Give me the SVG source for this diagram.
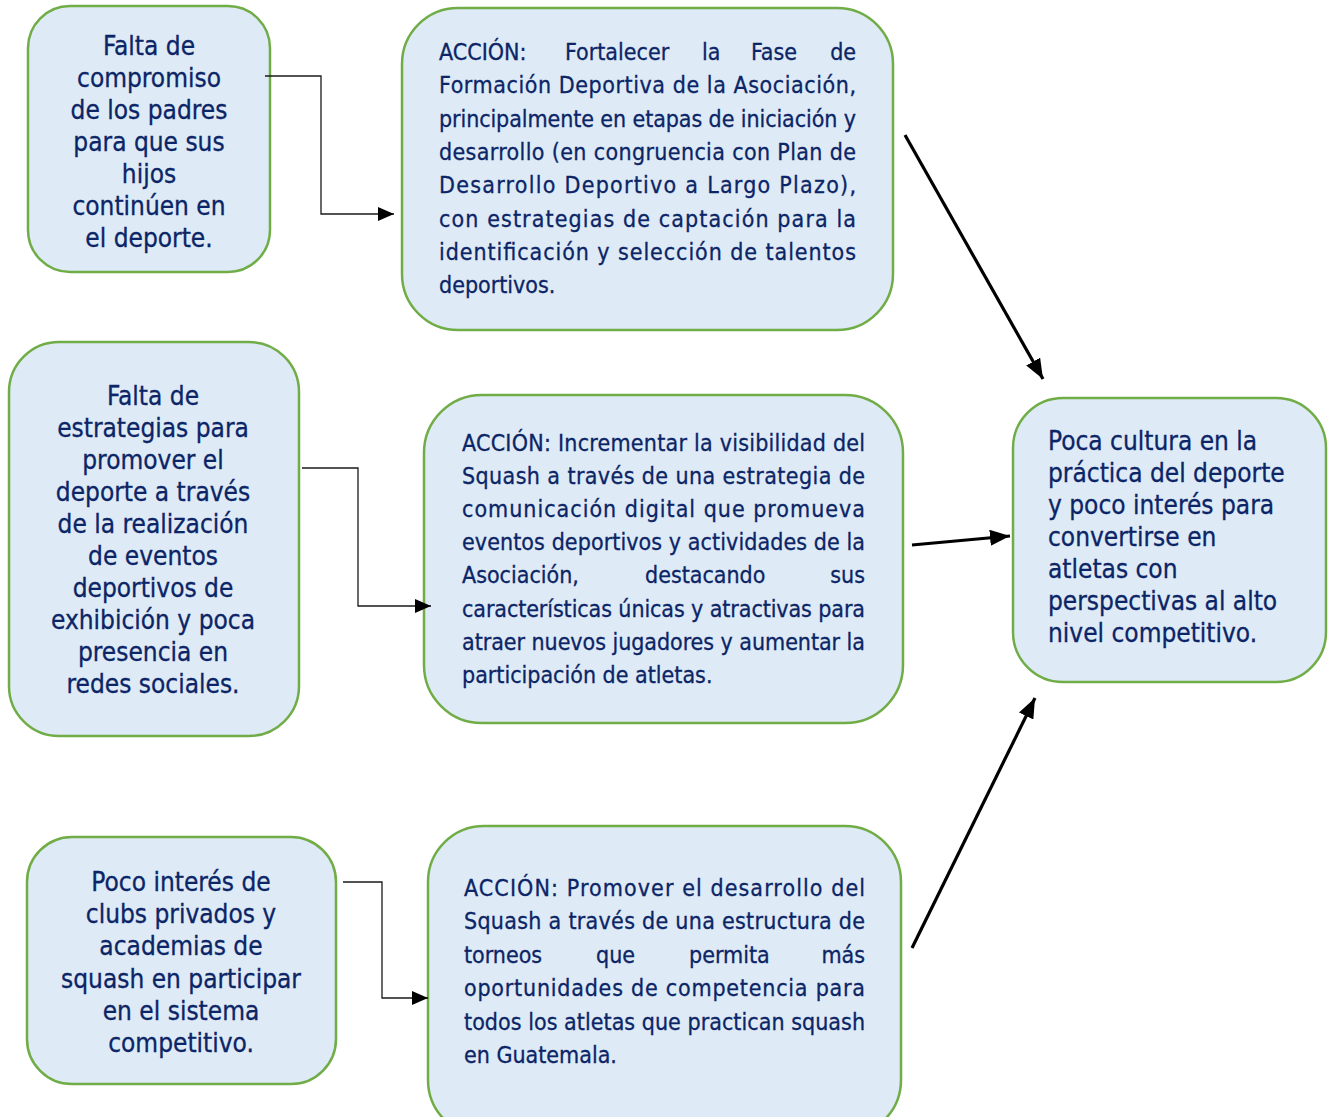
<svg xmlns="http://www.w3.org/2000/svg" width="1328" height="1117" viewBox="0 0 1328 1117">
<defs>
<style>
.box{fill:#DEEAF6;stroke:#70AD47;stroke-width:2.5}
.t{font-family:"DejaVu Sans Condensed","DejaVu Sans",sans-serif;fill:#0B2566;stroke:#0B2566;stroke-width:0.3}
.c{font-size:26px;text-anchor:middle}
.l{font-size:26px}
.j{font-size:23px}
.e{text-anchor:end}
.thin{fill:none;stroke:#1a1a1a;stroke-width:1.3}
.thick{fill:none;stroke:#000;stroke-width:3.2}
</style>
<marker id="ah" markerUnits="userSpaceOnUse" markerWidth="16" markerHeight="14" refX="16" refY="7" orient="auto"><path d="M0,0 L16,7 L0,14 z" fill="#000"/></marker>
<marker id="ahb" markerUnits="userSpaceOnUse" markerWidth="20" markerHeight="16" refX="20" refY="8" orient="auto"><path d="M0,0 L20,8 L0,16 z" fill="#000"/></marker>
</defs>
<rect width="1328" height="1117" fill="#fff"/>

<g id="n1">
<rect class="box" x="28" y="6" width="242" height="266" rx="42"/>
<text class="t c" x="149"><tspan x="149" y="55">Falta de</tspan><tspan x="149" y="87">compromiso</tspan><tspan x="149" y="119">de los padres</tspan><tspan x="149" y="151">para que sus</tspan><tspan x="149" y="183">hijos</tspan><tspan x="149" y="215">continúen en</tspan><tspan x="149" y="247">el deporte.</tspan></text>
</g>

<g id="n2">
<rect class="box" x="402" y="8" width="491" height="322" rx="56"/>
<g class="t j">
<text x="439" y="60">ACCIÓN:</text><text x="565" y="60">Fortalecer</text><text x="702" y="60">la</text><text x="751" y="60">Fase</text><text class="e" x="856" y="60">de</text>
<text x="439" y="93.3" textLength="417" lengthAdjust="spacing">Formación Deportiva de la Asociación,</text>
<text x="439" y="126.6" textLength="417" lengthAdjust="spacing">principalmente en etapas de iniciación y</text>
<text x="439" y="160" textLength="417" lengthAdjust="spacing">desarrollo (en congruencia con Plan de</text>
<text x="439" y="193.3" textLength="417" lengthAdjust="spacing">Desarrollo Deportivo a Largo Plazo),</text>
<text x="439" y="226.6" textLength="417" lengthAdjust="spacing">con estrategias de captación para la</text>
<text x="439" y="260" textLength="417" lengthAdjust="spacing">identificación y selección de talentos</text>
<text x="439" y="293">deportivos.</text>
</g>
</g>

<g id="n3">
<rect class="box" x="9" y="342" width="290" height="394" rx="50"/>
<text class="t c"><tspan x="153" y="405">Falta de</tspan><tspan x="153" y="437">estrategias para</tspan><tspan x="153" y="469">promover el</tspan><tspan x="153" y="501">deporte a través</tspan><tspan x="153" y="533">de la realización</tspan><tspan x="153" y="565">de eventos</tspan><tspan x="153" y="597">deportivos de</tspan><tspan x="153" y="629">exhibición y poca</tspan><tspan x="153" y="661">presencia en</tspan><tspan x="153" y="693">redes sociales.</tspan></text>
</g>

<g id="n4">
<rect class="box" x="424" y="395" width="479" height="328" rx="58"/>
<g class="t j">
<text x="462" y="451" textLength="403" lengthAdjust="spacing">ACCIÓN: Incrementar la visibilidad del</text>
<text x="462" y="484.1" textLength="403" lengthAdjust="spacing">Squash a través de una estrategia de</text>
<text x="462" y="517.2" textLength="403" lengthAdjust="spacing">comunicación digital que promueva</text>
<text x="462" y="550.3" textLength="403" lengthAdjust="spacing">eventos deportivos y actividades de la</text>
<text x="462" y="583.4">Asociación,</text><text x="645" y="583.4">destacando</text><text class="e" x="865" y="583.4">sus</text>
<text x="462" y="616.5" textLength="403" lengthAdjust="spacing">características únicas y atractivas para</text>
<text x="462" y="649.6" textLength="403" lengthAdjust="spacing">atraer nuevos jugadores y aumentar la</text>
<text x="462" y="683">participación de atletas.</text>
</g>
</g>

<g id="n5">
<rect class="box" x="1013" y="398" width="313" height="284" rx="50"/>
<text class="t l"><tspan x="1048" y="450">Poca cultura en la</tspan><tspan x="1048" y="482">práctica del deporte</tspan><tspan x="1048" y="514">y poco interés para</tspan><tspan x="1048" y="546">convertirse en</tspan><tspan x="1048" y="578">atletas con</tspan><tspan x="1048" y="610">perspectivas al alto</tspan><tspan x="1048" y="642">nivel competitivo.</tspan></text>
</g>

<g id="n6">
<rect class="box" x="27" y="837" width="309" height="247" rx="45"/>
<text class="t c"><tspan x="181" y="891">Poco interés de</tspan><tspan x="181" y="923">clubs privados y</tspan><tspan x="181" y="955">academias de</tspan><tspan x="181" y="988">squash en participar</tspan><tspan x="181" y="1020">en el sistema</tspan><tspan x="181" y="1052">competitivo.</tspan></text>
</g>

<g id="n7">
<rect class="box" x="428" y="826" width="473" height="310" rx="56"/>
<g class="t j">
<text x="464" y="896" textLength="401" lengthAdjust="spacing">ACCIÓN: Promover el desarrollo del</text>
<text x="464" y="929.4" textLength="401" lengthAdjust="spacing">Squash a través de una estructura de</text>
<text x="464" y="962.8">torneos</text><text x="596" y="962.8">que</text><text x="689" y="962.8">permita</text><text class="e" x="865" y="962.8">más</text>
<text x="464" y="996.2" textLength="401" lengthAdjust="spacing">oportunidades de competencia para</text>
<text x="464" y="1029.6" textLength="401" lengthAdjust="spacing">todos los atletas que practican squash</text>
<text x="464" y="1063">en Guatemala.</text>
</g>
</g>

<g id="connectors">
<path class="thin" d="M265,76 H321 V214 H394" marker-end="url(#ah)"/>
<path class="thin" d="M302,468 H358 V606 H431" marker-end="url(#ah)"/>
<path class="thin" d="M343,882 H382 V998 H428" marker-end="url(#ah)"/>
<path class="thick" d="M905,135 L1043,379" marker-end="url(#ahb)"/>
<path class="thick" d="M912,545 L1010,536" marker-end="url(#ahb)"/>
<path class="thick" d="M912,948 L1035,698" marker-end="url(#ahb)"/>
</g>
</svg>
